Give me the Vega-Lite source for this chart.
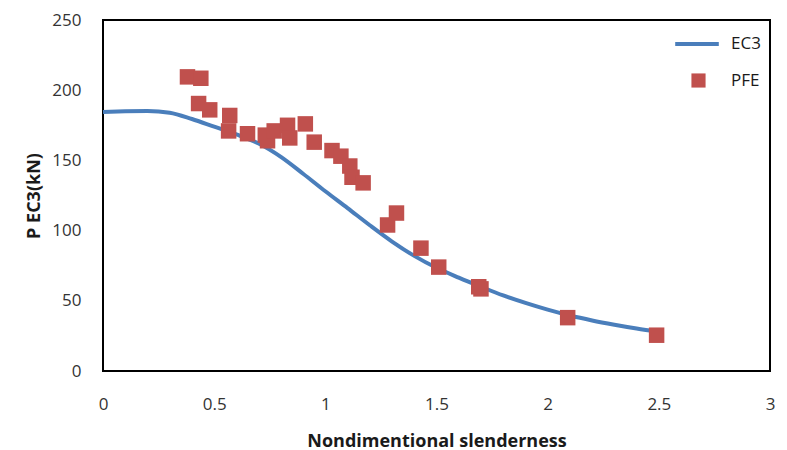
{
  "$schema": "https://vega.github.io/schema/vega-lite/v6.json",
  "width": 667,
  "height": 351,
  "autosize": {"type": "none"},
  "padding": {"left": 103, "top": 20, "right": 17, "bottom": 79},
  "background": "white",
  "config": {
    "view": {"stroke": "#000000", "strokeWidth": 2},
    "font": "Open Sans",
    "axis": {
      "grid": false,
      "ticks": false,
      "domain": false,
      "labelFont": "Open Sans",
      "labelFontSize": 17,
      "labelColor": "#333333",
      "titleFont": "Open Sans",
      "titleFontSize": 18,
      "titleFontWeight": "bold",
      "titleColor": "#1a1a1a"
    },
    "legend": {"labelFont": "Open Sans", "labelFontSize": 17, "labelColor": "#1a1a1a"}
  },
  "datasets": {
    "ec3": [
      {"s": 0.0, "p": 184.5, "series": "EC3"},
      {"s": 0.1, "p": 185, "series": "EC3"},
      {"s": 0.2, "p": 185.2, "series": "EC3"},
      {"s": 0.3, "p": 184, "series": "EC3"},
      {"s": 0.4, "p": 179.5, "series": "EC3"},
      {"s": 0.5, "p": 174, "series": "EC3"},
      {"s": 0.6, "p": 168.5, "series": "EC3"},
      {"s": 0.7, "p": 162, "series": "EC3"},
      {"s": 0.8, "p": 152.5, "series": "EC3"},
      {"s": 0.9, "p": 140.5, "series": "EC3"},
      {"s": 1.0, "p": 128, "series": "EC3"},
      {"s": 1.1, "p": 116, "series": "EC3"},
      {"s": 1.2, "p": 103.8, "series": "EC3"},
      {"s": 1.3, "p": 92.2, "series": "EC3"},
      {"s": 1.4, "p": 82, "series": "EC3"},
      {"s": 1.5, "p": 73.5, "series": "EC3"},
      {"s": 1.6, "p": 66.5, "series": "EC3"},
      {"s": 1.7, "p": 60, "series": "EC3"},
      {"s": 1.8, "p": 53.8, "series": "EC3"},
      {"s": 1.9, "p": 48.5, "series": "EC3"},
      {"s": 2.0, "p": 43.7, "series": "EC3"},
      {"s": 2.1, "p": 39.5, "series": "EC3"},
      {"s": 2.2, "p": 36, "series": "EC3"},
      {"s": 2.3, "p": 33, "series": "EC3"},
      {"s": 2.4, "p": 30.3, "series": "EC3"},
      {"s": 2.5, "p": 28, "series": "EC3"}
    ],
    "pfe": [
      {"s": 0.38, "p": 209.5, "series": "PFE"},
      {"s": 0.44, "p": 208.5, "series": "PFE"},
      {"s": 0.43, "p": 190.5, "series": "PFE"},
      {"s": 0.48, "p": 186, "series": "PFE"},
      {"s": 0.57, "p": 182, "series": "PFE"},
      {"s": 0.565, "p": 171, "series": "PFE"},
      {"s": 0.65, "p": 169, "series": "PFE"},
      {"s": 0.73, "p": 168, "series": "PFE"},
      {"s": 0.74, "p": 164, "series": "PFE"},
      {"s": 0.77, "p": 171, "series": "PFE"},
      {"s": 0.83, "p": 175, "series": "PFE"},
      {"s": 0.84, "p": 166, "series": "PFE"},
      {"s": 0.91, "p": 176, "series": "PFE"},
      {"s": 0.95, "p": 163, "series": "PFE"},
      {"s": 1.03, "p": 157, "series": "PFE"},
      {"s": 1.07, "p": 153, "series": "PFE"},
      {"s": 1.11, "p": 146, "series": "PFE"},
      {"s": 1.12, "p": 138, "series": "PFE"},
      {"s": 1.17, "p": 134, "series": "PFE"},
      {"s": 1.28, "p": 104, "series": "PFE"},
      {"s": 1.32, "p": 112.5, "series": "PFE"},
      {"s": 1.43, "p": 87.5, "series": "PFE"},
      {"s": 1.51, "p": 74, "series": "PFE"},
      {"s": 1.69, "p": 60, "series": "PFE"},
      {"s": 1.70, "p": 58.5, "series": "PFE"},
      {"s": 2.09, "p": 38, "series": "PFE"},
      {"s": 2.49, "p": 25.5, "series": "PFE"}
    ]
  },
  "encoding": {
    "x": {
      "field": "s",
      "type": "quantitative",
      "scale": {"domain": [0, 3], "nice": false, "zero": true},
      "axis": {"values": [0, 0.5, 1, 1.5, 2, 2.5, 3], "format": "~g", "labelPadding": 25, "titlePadding": 20, "title": "Nondimentional slenderness", "labelFlush": false}
    },
    "y": {
      "field": "p",
      "type": "quantitative",
      "scale": {"domain": [0, 250], "nice": false},
      "axis": {"values": [0, 50, 100, 150, 200, 250], "labelPadding": 22, "titlePadding": 8, "title": "P EC3(kN)", "labelFlush": false}
    }
  },
  "layer": [
    {
      "data": {"name": "ec3"},
      "mark": {"type": "line", "interpolate": "monotone", "strokeWidth": 4},
      "encoding": {
        "color": {
          "field": "series",
          "type": "nominal",
          "scale": {"domain": ["EC3"], "range": ["#4a7ebb"]},
          "legend": {
            "title": null,
            "orient": "none",
            "legendX": 570,
            "legendY": 0,
            "symbolType": "stroke",
            "symbolSize": 1900,
            "symbolStrokeWidth": 4,
            "labelOffset": 10,
            "padding": 0
          }
        }
      }
    },
    {
      "data": {"name": "pfe"},
      "mark": {"type": "point", "filled": true, "opacity": 1, "color": "#c0504d", "size": 240},
      "encoding": {
        "shape": {
          "field": "series",
          "type": "nominal",
          "scale": {"domain": ["PFE"], "range": ["square"]},
          "legend": {
            "title": null,
            "orient": "none",
            "legendX": 587,
            "legendY": 52,
            "symbolSize": 200,
            "symbolFillColor": "#c0504d",
            "symbolStrokeColor": "#c0504d",
            "symbolStrokeWidth": 0,
            "symbolOpacity": 1,
            "labelOffset": 24,
            "padding": 0
          }
        }
      }
    }
  ]
}
